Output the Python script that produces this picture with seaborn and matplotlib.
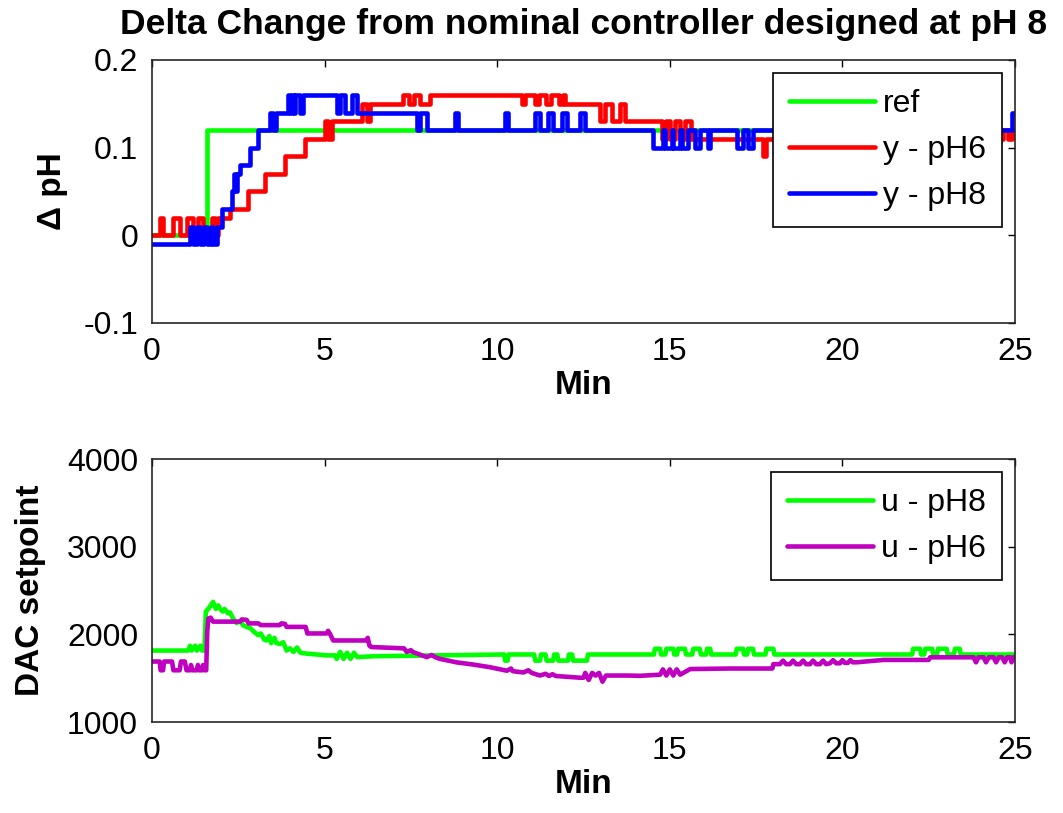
import numpy as np
import pandas as pd
import matplotlib
matplotlib.use("Agg")
import matplotlib.pyplot as plt
import seaborn as sns

# ---------------- data ----------------
# top panel: step series, value holds from time until next time (minutes, delta pH)
ref_t = [0, 1.58, 25]
ref_v = [0, 0.12, 0.12]

ph6_t = [0, 0.23, 0.33, 0.6, 0.8, 1.0, 1.2, 1.33, 1.48, 1.73, 1.82, 1.9, 2.26, 2.79, 3.27,
         3.85, 4.43, 5.01, 5.1, 5.2, 6.07, 6.22, 6.32, 7.28, 7.45, 7.6, 7.76, 8.05,
         10.71, 10.8, 11.1, 11.2, 11.4, 11.55, 11.8, 11.9, 11.96,
         12.98, 13.12, 13.32, 13.56, 13.7,
         14.76, 14.9, 15.0, 15.15, 15.3, 15.45, 15.6, 17.7, 17.8,
         24.65, 24.8, 24.9, 25]
ph6_v = [0, 0.02, 0, 0.02, 0, 0.02, 0, 0.02, 0, 0.02, 0, 0.02, 0.03, 0.05, 0.07,
         0.09, 0.11, 0.13, 0.11, 0.13, 0.15, 0.13, 0.15, 0.16, 0.15, 0.16, 0.15, 0.16,
         0.15, 0.16, 0.15, 0.16, 0.15, 0.16, 0.15, 0.16, 0.15,
         0.13, 0.15, 0.13, 0.15, 0.13,
         0.11, 0.13, 0.11, 0.13, 0.11, 0.13, 0.11, 0.09, 0.11,
         0.12, 0.11, 0.12, 0.12]

ph8_t = [0, 1.1, 1.2, 1.3, 1.4, 1.5, 1.6, 1.7, 1.78, 1.87, 2.02, 2.31, 2.38, 2.42, 2.47,
         2.55, 2.84, 3.08, 3.42, 3.5, 3.58, 3.95, 4.0, 4.05, 4.1, 4.15, 4.29, 4.38,
         5.35, 5.45, 5.6, 5.8, 5.93, 6.22, 7.67, 7.76, 7.96, 8.78, 8.87, 10.23, 10.3,
         11.1, 11.24, 11.47, 11.62, 11.88, 12.02, 12.4, 12.54,
         14.5, 14.8, 14.86, 15.06, 15.1, 15.3, 15.35, 15.53, 15.73, 15.87, 16.1, 16.17,
         16.94, 17.12, 17.27, 17.41, 24.92, 25]
ph8_v = [-0.01, 0.01, -0.01, 0.01, -0.01, 0.01, -0.01, 0.01, -0.01, 0.01, 0.03, 0.05, 0.07, 0.05, 0.07,
         0.08, 0.10, 0.12, 0.14, 0.12, 0.14, 0.16, 0.14, 0.16, 0.14, 0.16, 0.14, 0.16,
         0.14, 0.16, 0.14, 0.16, 0.14, 0.14, 0.12, 0.14, 0.12, 0.14, 0.12, 0.14, 0.12,
         0.14, 0.12, 0.14, 0.12, 0.14, 0.12, 0.14, 0.12,
         0.10, 0.12, 0.10, 0.12, 0.10, 0.12, 0.10, 0.12, 0.10, 0.12, 0.10, 0.12,
         0.10, 0.12, 0.10, 0.12, 0.14, 0.14]

# bottom panel: DAC setpoint samples (minutes, counts)
u8_t = [0, 1.05, 1.1, 1.15, 1.25, 1.3, 1.4, 1.45, 1.52, 1.56, 1.65, 1.77, 1.85, 1.92, 1.97,
        2.05, 2.1, 2.2, 2.26, 2.35, 2.45, 2.55, 2.65, 2.74, 2.85, 2.95, 3.08, 3.15, 3.25,
        3.32, 3.4, 3.45, 3.55, 3.6, 3.71, 3.8, 3.9, 4.0, 4.1, 4.2, 4.3, 4.48, 5.06, 5.3,
        5.35, 5.45, 5.55, 5.65, 5.75, 5.85, 5.95, 6.41, 10.2, 10.23, 10.3, 10.33,
        11.07, 11.1, 11.24, 11.27, 11.4, 11.43, 11.62, 11.65, 11.74, 11.77, 12.05, 12.08,
        12.17, 12.2, 12.6, 12.63, 14.54, 14.57, 14.72, 14.75, 14.87, 14.9, 15.1, 15.13,
        15.21, 15.24, 15.44, 15.47, 15.65, 15.68, 15.87, 15.9, 16.05, 16.08, 16.17, 16.2,
        16.91, 16.94, 17.12, 17.15, 17.24, 17.27, 17.41, 17.44, 17.77, 17.8, 18.0, 18.03,
        22.02, 22.05, 22.25, 22.28, 22.37, 22.4, 22.6, 22.63, 22.74, 22.77, 23.02, 23.05,
        23.23, 23.26, 23.4, 23.43, 25]
u8_v = [1815, 1815, 1870, 1815, 1870, 1815, 1870, 1815, 1815, 2260, 2300, 2370, 2290, 2330, 2290,
        2260, 2290, 2240, 2250, 2180, 2130, 2150, 2100, 2085, 2070, 2030, 1990, 2010, 1940,
        1930, 1980, 1900, 1960, 1900, 1890, 1910, 1815, 1840, 1800, 1850, 1790, 1780, 1760, 1760,
        1720, 1800, 1720, 1790, 1720, 1790, 1740, 1750, 1770, 1700, 1700, 1770,
        1770, 1700, 1700, 1770, 1770, 1700, 1700, 1770, 1770, 1700, 1700, 1770,
        1770, 1700, 1700, 1770, 1770, 1835, 1835, 1770, 1770, 1835, 1835, 1770,
        1770, 1835, 1835, 1770, 1770, 1835, 1835, 1770, 1770, 1835, 1835, 1770,
        1770, 1835, 1835, 1770, 1770, 1835, 1835, 1770, 1770, 1835, 1835, 1770,
        1770, 1835, 1835, 1770, 1770, 1835, 1835, 1770, 1770, 1835, 1835, 1770,
        1770, 1835, 1835, 1770, 1770]

u6_t = [0, 0.22, 0.25, 0.32, 0.35, 0.58, 0.62, 0.8, 0.84, 0.95, 1.0, 1.1, 1.13, 1.17, 1.3,
        1.33, 1.37, 1.45, 1.48, 1.52, 1.57, 1.6, 1.63, 1.7, 1.77, 2.55, 2.6, 2.74, 2.8,
        3.08, 3.15, 3.7, 3.75, 3.85, 3.9, 4.45, 4.5, 5.06, 5.1, 5.15, 5.25, 6.2, 6.25,
        6.3, 6.35, 7.3, 7.38, 7.5, 7.55, 7.96, 8.1, 8.2, 8.34, 8.83, 9.31, 9.79, 10.28,
        10.4, 10.45, 10.76, 10.9, 11.0, 11.24, 11.4, 11.5, 11.6, 11.7, 12.4, 12.5, 12.55,
        12.65, 12.75, 12.85, 12.95, 13.05, 13.15, 13.75, 14.14, 14.72, 14.8, 14.9, 15.0,
        15.1, 15.2, 15.3, 15.59, 16.74, 17.97, 18.0, 18.19, 18.28, 18.37, 18.48, 18.57,
        18.66, 18.77, 18.86, 18.95, 19.06, 19.15, 19.24, 19.35, 19.44, 19.53, 19.64,
        19.73, 19.82, 19.93, 20.0, 20.07, 20.16, 20.23, 20.3, 20.41, 21.19, 22.5, 22.54,
        23.8, 23.87, 23.94, 24.09, 24.16, 24.24, 24.38, 24.45, 24.53, 24.63, 24.7, 24.77,
        24.86, 24.9, 24.95, 25]
u6_v = [1690, 1690, 1590, 1590, 1690, 1690, 1590, 1590, 1690, 1690, 1590, 1590, 1650, 1590, 1590,
        1650, 1590, 1590, 1650, 1590, 1590, 2030, 2180, 2190, 2145, 2145, 2170, 2165, 2125,
        2125, 2105, 2105, 2125, 2120, 2085, 2085, 2010, 2010, 2040, 2010, 1930, 1930, 1960,
        1870, 1855, 1840, 1800, 1820, 1800, 1740, 1765, 1740, 1720, 1680, 1655, 1625, 1585,
        1610, 1580, 1565, 1590, 1560, 1530, 1550, 1525, 1545, 1525, 1505, 1505, 1560,
        1480, 1560, 1530, 1560, 1460, 1530, 1530, 1527, 1540, 1600, 1530, 1600,
        1530, 1600, 1540, 1604, 1610, 1610, 1660, 1660, 1700, 1660, 1660, 1700,
        1660, 1660, 1700, 1660, 1660, 1700, 1660, 1660, 1700, 1660, 1670,
        1705, 1670, 1670, 1705, 1675, 1675, 1705, 1681, 1681, 1708, 1708, 1738,
        1738, 1681, 1738, 1738, 1681, 1738, 1738, 1681, 1738, 1738, 1681, 1738,
        1738, 1681, 1738, 1738]

# ---------------- style ----------------
sns.set_style("white")
plt.rcParams['font.family'] = ['Liberation Sans', 'DejaVu Sans']
plt.rcParams['text.color'] = 'black'
plt.rcParams['axes.labelcolor'] = 'black'

GREEN = '#00FF00'
RED = '#FF0000'
BLUE = '#0000FF'
MAGENTA = '#BF00BF'
LW = 3.3
FS = 23
LFS = 24

fig = plt.figure(figsize=(10.63, 8.13), dpi=100)
ax1 = fig.add_axes([152/1063, 1 - 323/813, (1015-152)/1063, (323-60)/813])
ax2 = fig.add_axes([152/1063, 1 - 722/813, (1015-152)/1063, (722-459)/813])

top = pd.concat([
    pd.DataFrame({'t': ref_t, 'v': ref_v, 's': 'ref'}),
    pd.DataFrame({'t': ph6_t, 'v': ph6_v, 's': 'y - pH6'}),
    pd.DataFrame({'t': ph8_t, 'v': ph8_v, 's': 'y - pH8'}),
])
sns.lineplot(data=top, x='t', y='v', hue='s', palette={'ref': GREEN, 'y - pH6': RED, 'y - pH8': BLUE},
             estimator=None, sort=False, drawstyle='steps-post', lw=LW, ax=ax1)

bot = pd.concat([
    pd.DataFrame({'t': u8_t, 'v': u8_v, 's': 'u - pH8'}),
    pd.DataFrame({'t': u6_t, 'v': u6_v, 's': 'u - pH6'}),
])
sns.lineplot(data=bot, x='t', y='v', hue='s', palette={'u - pH8': GREEN, 'u - pH6': MAGENTA},
             estimator=None, sort=False, lw=LW, ax=ax2)

for ax in (ax1, ax2):
    ax.set_xlim(0, 25)
    ax.set_xticks([0, 5, 10, 15, 20, 25])
    ax.tick_params(direction='in', length=5, width=1, top=True, right=True,
                   labelsize=FS, colors='black', pad=10)
    for sp in ax.spines.values():
        sp.set_color('#262626')
        sp.set_linewidth(1.2)
    ax.set_xlabel('Min', fontsize=LFS, fontweight='bold', labelpad=2, color='black')
    leg = ax.legend(loc='upper right', fontsize=FS, frameon=True, fancybox=False,
                    edgecolor='black', framealpha=1, borderaxespad=0.4,
                    handlelength=2.7, handletextpad=0.25, labelspacing=0.5, borderpad=0.5)
    leg.get_frame().set_linewidth(1.2)
    for h in leg.get_lines():
        h.set_linewidth(LW)
    for txt in leg.get_texts():
        txt.set_color('black')

ax1.set_ylim(-0.1, 0.2)
ax1.set_yticks([-0.1, 0, 0.1, 0.2])
ax1.set_yticklabels(['-0.1', '0', '0.1', '0.2'])
ax1.set_ylabel('Δ pH', fontsize=LFS, fontweight='bold', labelpad=11, color='black')
ax1.set_title('Delta Change from nominal controller designed at pH 8',
              fontsize=25.5, fontweight='bold', pad=19, color='black')

ax2.set_ylim(1000, 4000)
ax2.set_yticks([1000, 2000, 3000, 4000])
ax2.set_ylabel('DAC setpoint', fontsize=LFS, fontweight='bold', labelpad=15, color='black')

fig.savefig('out.png', dpi=100)
